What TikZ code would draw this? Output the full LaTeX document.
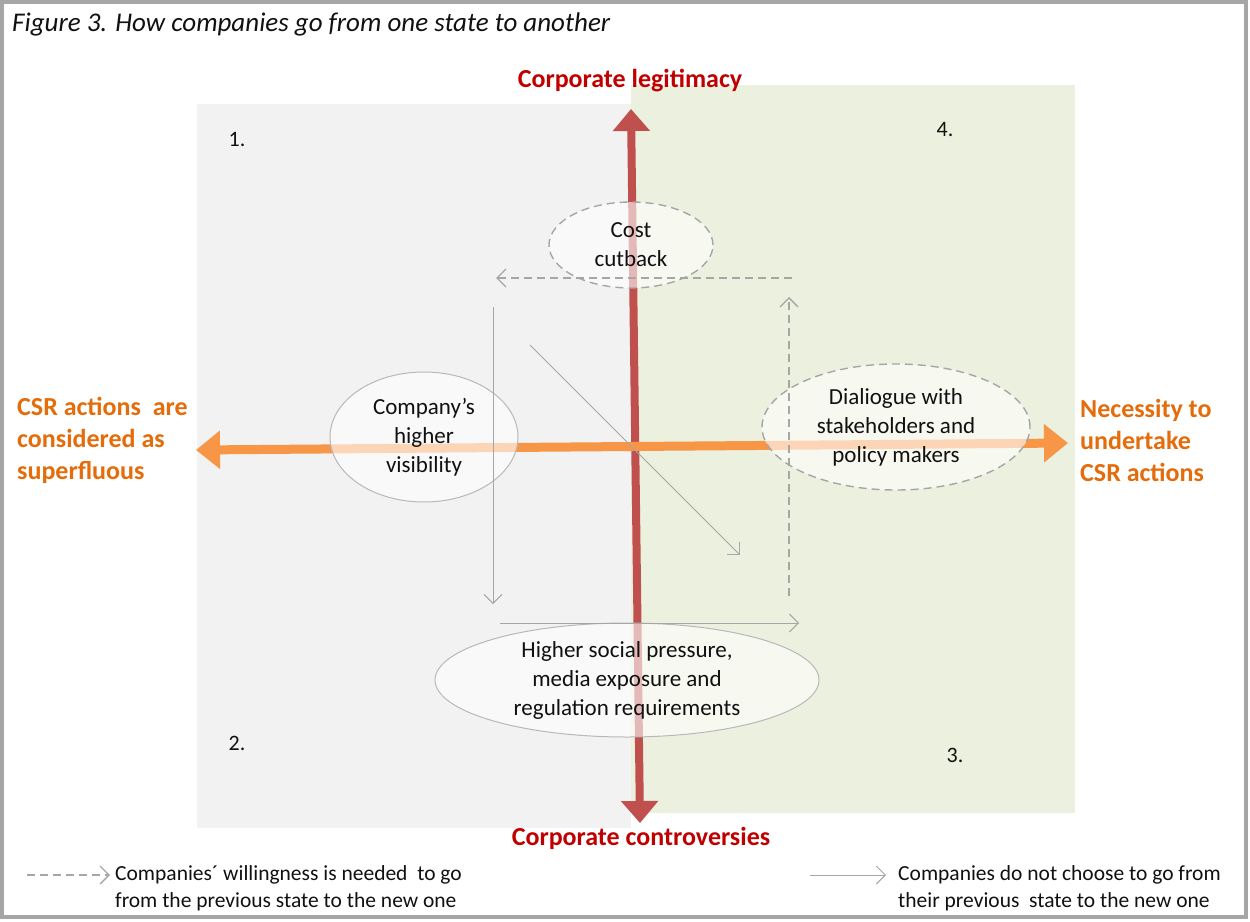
\documentclass[tikz,border=0pt]{standalone}
\usepackage{fontspec}
\setmainfont{Carlito}
\usetikzlibrary{arrows.meta,shapes.geometric}
\definecolor{redarrow}{HTML}{C0504D}
\definecolor{redtext}{HTML}{C00000}
\definecolor{orarrow}{HTML}{F79646}
\definecolor{ortext}{HTML}{E46C0A}
\definecolor{grayq}{HTML}{F2F2F2}
\definecolor{greenq}{HTML}{EBF1DE}
\definecolor{conn}{HTML}{A6A6A6}
\definecolor{txt}{HTML}{111111}
\tikzset{
  bubble/.style={ellipse, inner sep=0pt, fill=white, fill opacity=0.6, text opacity=1,
    align=center, text=txt, font=\fontsize{23}{29}\selectfont},
  dashbubble/.style={bubble, draw=conn, line width=1.4pt, dash pattern=on 8pt off 5pt},
  solidbubble/.style={bubble, draw=conn!80, line width=1pt},
  willarrow/.style={draw=conn, line width=1.3pt, dash pattern=on 8pt off 5pt,
    -{Straight Barb[length=9pt,width=18pt,line width=1.3pt]}},
  forcedarrow/.style={draw=conn, line width=1pt,
    -{Straight Barb[length=9pt,width=18pt,line width=1pt]}},
  quadnum/.style={text=txt, font=\fontsize{22}{26}\selectfont},
  axislabel/.style={font=\bfseries\fontsize{26}{32}\selectfont},
  legendtext/.style={text=txt, align=left, font=\fontsize{21.5}{27}\selectfont, inner sep=0pt},
}
\begin{document}
\begin{tikzpicture}[x=1pt,y=-1pt]
\useasboundingbox (0,0) rectangle (1250,921);
% frame
\fill[white] (0,0) rectangle (1250,921);
\draw[gray!70, line width=4pt] (2,2) rectangle (1246,917);
% title
\node[anchor=base west, inner sep=0pt, text=txt, font=\itshape\fontsize{27}{30}\selectfont] (title) at (12,31) {Figure 3. How companies go from one state to another};
% quadrants
\fill[grayq] (197,104) rectangle (631,828);
\fill[greenq] (631,85) rectangle (1075,813);
% quadrant numbers
\node[quadnum] (q1) at (237,140) {1.};
\node[quadnum] (q4) at (945,130) {4.};
\node[quadnum] (q2) at (237,743) {2.};
\node[quadnum] (q3) at (955,755) {3.};
% axes
\coordinate (vtop) at (631,109);
\coordinate (vbot) at (640,823);
\coordinate (hleft) at (196,450);
\coordinate (hright) at (1068,443);
\draw[redarrow, line width=8pt, {Triangle[length=22pt,width=36pt]}-{Triangle[length=22pt,width=36pt]}] (vbot) -- (vtop);
\draw[orarrow, line width=9pt, {Triangle[length=24pt,width=37pt]}-{Triangle[length=24pt,width=37pt]}] (hleft) -- (hright);
% axis labels
\node[axislabel, text=redtext] (legit) at (630,81) {Corporate legitimacy};
\node[axislabel, text=redtext] (contro) at (641,838) {Corporate controversies};
\node[axislabel, text=ortext, anchor=west, align=left, inner sep=0pt] (superf) at (17,440) {CSR actions~~are\\considered as\\superfluous};
\node[axislabel, text=ortext, anchor=west, align=left, inner sep=0pt] (necess) at (1080,440) {Necessity to\\undertake\\CSR actions};
% bubbles
\node[dashbubble, minimum width=164pt, minimum height=86pt] (cost) at (631,245) {Cost\\cutback};
\node[solidbubble, minimum width=188pt, minimum height=130pt] (visib) at (424,437) {Company’s\\higher\\visibility};
\node[dashbubble, minimum width=268pt, minimum height=126pt] (dialog) at (896,427) {Dialiogue with\\stakeholders and\\policy makers};
\node[solidbubble, minimum width=384pt, minimum height=114pt] (press) at (627,680) {Higher social pressure,\\media exposure and\\regulation requirements};
% transitions
\coordinate (a1s) at (792,278); \coordinate (a1e) at (496,278);
\coordinate (a2s) at (789,596); \coordinate (a2e) at (789,297);
\coordinate (a3s) at (493,307); \coordinate (a3e) at (493,604);
\coordinate (a4s) at (500,623); \coordinate (a4e) at (799,623);
\coordinate (a5s) at (530,345); \coordinate (a5e) at (740,555);
\draw[willarrow] (a1s) -- (a1e);
\draw[willarrow] (a2s) -- (a2e);
\draw[forcedarrow] (a3s) -- (a3e);
\draw[forcedarrow] (a4s) -- (a4e);
\draw[forcedarrow] (a5s) -- (a5e);
% legend
\coordinate (l1s) at (27,875); \coordinate (l1e) at (110,875);
\coordinate (l2s) at (810,875); \coordinate (l2e) at (886,875);
\draw[willarrow] (l1s) -- (l1e);
\draw[forcedarrow] (l2s) -- (l2e);
\node[legendtext, anchor=west] (leg1) at (115,888) {Companies´ willingness is needed~ to go\\from the previous state to the new one};
\node[legendtext, anchor=west] (leg2) at (898,888) {Companies do not choose to go from\\their previous~ state to the new one};
\end{tikzpicture}
\end{document}
